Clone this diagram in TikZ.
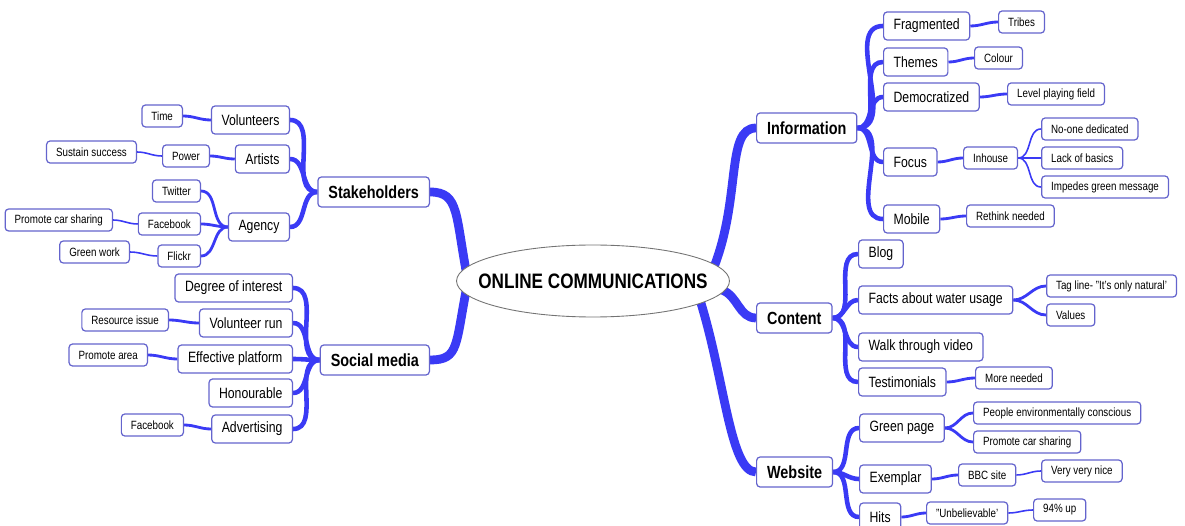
\documentclass[tikz,border=0pt]{standalone}
\usepackage{fontspec}
\setmainfont{Liberation Sans}[FakeStretch=0.82]
\usepackage{tikz}
\usetikzlibrary{shapes.geometric}
\usetikzlibrary{backgrounds}
\definecolor{branchblue}{RGB}{58,58,245}
\definecolor{boxline}{RGB}{100,100,205}
\tikzset{
  hub/.style={ellipse,draw=black!55,line width=0.5pt,fill=white,minimum width=5.46cm,
    minimum height=1.44cm,inner sep=0pt,font=\fontsize{11.9}{14}\selectfont\bfseries},
  box/.style={draw=boxline,line width=0.7pt,rounded corners=2pt,fill=white,inner ysep=0pt},
  topic/.style={box,font=\fontsize{10}{12}\selectfont\bfseries,minimum height=0.6cm,inner xsep=0.21cm},
  sub/.style={box,font=\fontsize{8.5}{10}\selectfont,minimum height=0.56cm,inner xsep=0.2cm},
  leaf/.style={box,font=\fontsize{6.8}{8}\selectfont,minimum height=0.44cm,inner xsep=0.19cm},
  trunk/.style={draw=branchblue,line width=5pt},
  bough/.style={draw=branchblue,line width=2.6pt},
  twig/.style={draw=branchblue,line width=1.6pt},
  thread/.style={draw=branchblue,line width=0.9pt}
}

\begin{document}
\begin{tikzpicture}[x=0.02cm,y=-0.02cm]
  \useasboundingbox (0,0) rectangle (1185,526);
  \node[hub] (hub) at (593,281) {\makebox[0pt]{ONLINE COMMUNICATIONS}};
  \coordinate (hubW) at (468,281);
  \coordinate (hubNE) at (712,272);
  \coordinate (hubE) at (722,290);
  \coordinate (hubSE) at (700,300);

  \node[topic,anchor=east] (stake) at (430,192) {Stakeholders};
  \node[topic,anchor=east] (social) at (430,360) {Social media};
  \node[topic,anchor=west] (info) at (756,128) {Information};
  \node[topic,anchor=west] (content) at (756,318) {Content};
  \node[topic,anchor=west] (web) at (756,472) {Website};

  \node[sub,anchor=east] (vol) at (290,120) {Volunteers};
  \node[sub,anchor=east] (art) at (290,159) {Artists};
  \node[sub,anchor=east] (agency) at (290,227) {Agency};
  \node[leaf,anchor=east] (time) at (183,116) {Time};
  \node[leaf,anchor=east] (power) at (210,156) {Power};
  \node[leaf,anchor=east] (sustain) at (137,152) {Sustain success};
  \node[leaf,anchor=east] (twitter) at (201,191) {Twitter};
  \node[leaf,anchor=east] (fbook) at (201,224) {Facebook};
  \node[leaf,anchor=east] (carshare) at (113,220) {Promote car sharing};
  \node[leaf,anchor=east] (flickr) at (201,256) {Flickr};
  \node[leaf,anchor=east] (greenwork) at (130,252) {Green work};

  \node[sub,anchor=east] (degree) at (293,288) {Degree of interest};
  \node[sub,anchor=east] (volrun) at (293,323) {Volunteer run};
  \node[sub,anchor=east] (effect) at (293,359) {Effective platform};
  \node[sub,anchor=east] (honour) at (293,393) {Honourable};
  \node[sub,anchor=east] (advert) at (293,429) {Advertising};
  \node[leaf,anchor=east] (resource) at (169,320) {Resource issue};
  \node[leaf,anchor=east] (area) at (148,355) {Promote area};
  \node[leaf,anchor=east] (fbad) at (184,425) {Facebook};

  \node[sub,anchor=west] (frag) at (883,26) {Fragmented};
  \node[sub,anchor=west] (themes) at (883,62) {Themes};
  \node[sub,anchor=west] (democ) at (883,97) {Democratized};
  \node[sub,anchor=west] (focus) at (883,162) {Focus};
  \node[sub,anchor=west] (mobile) at (883,219) {Mobile};
  \node[leaf,anchor=west] (tribes) at (998,22) {Tribes};
  \node[leaf,anchor=west] (colour) at (974,58) {Colour};
  \node[leaf,anchor=west] (levelfield) at (1007,94) {Level playing field};
  \node[leaf,anchor=west] (inhouse) at (963,158) {Inhouse};
  \node[leaf,anchor=west] (noone) at (1041,129) {No-one dedicated};
  \node[leaf,anchor=west] (basics) at (1041,158) {Lack of basics};
  \node[leaf,anchor=west] (impedes) at (1041,187) {Impedes green message};
  \node[leaf,anchor=west] (rethink) at (966,216) {Rethink needed};

  \node[sub,anchor=west] (blog) at (858,254) {Blog};
  \node[sub,anchor=west] (facts) at (858,300) {Facts about water usage};
  \node[sub,anchor=west] (walk) at (858,347) {Walk through video};
  \node[sub,anchor=west] (testim) at (858,382) {Testimonials};
  \node[leaf,anchor=west] (tagline) at (1046,286) {Tag line- "It's only natural'};
  \node[leaf,anchor=west] (values) at (1046,315) {Values};
  \node[leaf,anchor=west] (moreneed) at (975,378) {More needed};

  \node[sub,anchor=west] (greenpg) at (859,428) {Green page};
  \node[sub,anchor=west] (exemplar) at (859,479) {Exemplar};
  \node[sub,anchor=west] (hits) at (859,517) {Hits};
  \node[leaf,anchor=west] (people) at (973,413) {People environmentally conscious};
  \node[leaf,anchor=west] (carshare2) at (973,442) {Promote car sharing};
  \node[leaf,anchor=west] (bbc) at (958,475) {BBC site};
  \node[leaf,anchor=west] (nice) at (1041,471) {Very very nice};
  \node[leaf,anchor=west] (unbel) at (926,513) {"Unbelievable'};
  \node[leaf,anchor=west] (up) at (1033,510) {94\% up};

  \begin{scope}[on background layer]
    \draw[trunk] (hubW) .. controls (455,215) and (460,192) .. (stake.east);
    \draw[trunk] (hubW) .. controls (455,345) and (460,360) .. (social.east);
    \draw[trunk] (hubNE) .. controls (742,200) and (725,128) .. (info.west);
    \draw[trunk] (hubE) to[out=-20,in=180] (content.west);
    \draw[trunk] (hubSE) .. controls (725,380) and (730,472) .. (web.west);

    \foreach \kid in {vol,art,agency}
      \draw[bough] (stake.west) to[out=180,in=0] (\kid.east);
    \foreach \kid in {degree,volrun,effect,honour,advert}
      \draw[bough] (social.west) to[out=180,in=0] (\kid.east);
    \foreach \kid in {frag,themes,democ,focus,mobile}
      \draw[bough] (info.east) to[out=0,in=180] (\kid.west);
    \foreach \kid in {blog,facts,walk,testim}
      \draw[bough] (content.east) to[out=0,in=180] (\kid.west);
    \foreach \kid in {greenpg,exemplar,hits}
      \draw[bough] (web.east) to[out=0,in=180] (\kid.west);

    \draw[twig] (vol.west) to[out=180,in=0] (time.east);
    \draw[twig] (art.west) to[out=180,in=0] (power.east);
    \foreach \kid in {twitter,fbook,flickr}
      \draw[twig] (agency.west) to[out=180,in=0] (\kid.east);
    \draw[twig] (volrun.west) to[out=180,in=0] (resource.east);
    \draw[twig] (effect.west) to[out=180,in=0] (area.east);
    \draw[twig] (advert.west) to[out=180,in=0] (fbad.east);
    \draw[twig] (frag.east) to[out=0,in=180] (tribes.west);
    \draw[twig] (themes.east) to[out=0,in=180] (colour.west);
    \draw[twig] (democ.east) to[out=0,in=180] (levelfield.west);
    \draw[twig] (focus.east) to[out=0,in=180] (inhouse.west);
    \draw[twig] (mobile.east) to[out=0,in=180] (rethink.west);
    \draw[twig] (facts.east) to[out=0,in=180] (tagline.west);
    \draw[twig] (facts.east) to[out=0,in=180] (values.west);
    \draw[twig] (testim.east) to[out=0,in=180] (moreneed.west);
    \draw[twig] (greenpg.east) to[out=0,in=180] (people.west);
    \draw[twig] (greenpg.east) to[out=0,in=180] (carshare2.west);
    \draw[twig] (exemplar.east) to[out=0,in=180] (bbc.west);
    \draw[twig] (hits.east) to[out=0,in=180] (unbel.west);

    \draw[thread] (power.west) to[out=180,in=0] (sustain.east);
    \draw[thread] (fbook.west) to[out=180,in=0] (carshare.east);
    \draw[thread] (flickr.west) to[out=180,in=0] (greenwork.east);
    \foreach \kid in {noone,basics,impedes}
      \draw[thread] (inhouse.east) to[out=0,in=180] (\kid.west);
    \draw[thread] (bbc.east) to[out=0,in=180] (nice.west);
    \draw[thread] (unbel.east) to[out=0,in=180] (up.west);
  \end{scope}
\end{tikzpicture}
\end{document}
